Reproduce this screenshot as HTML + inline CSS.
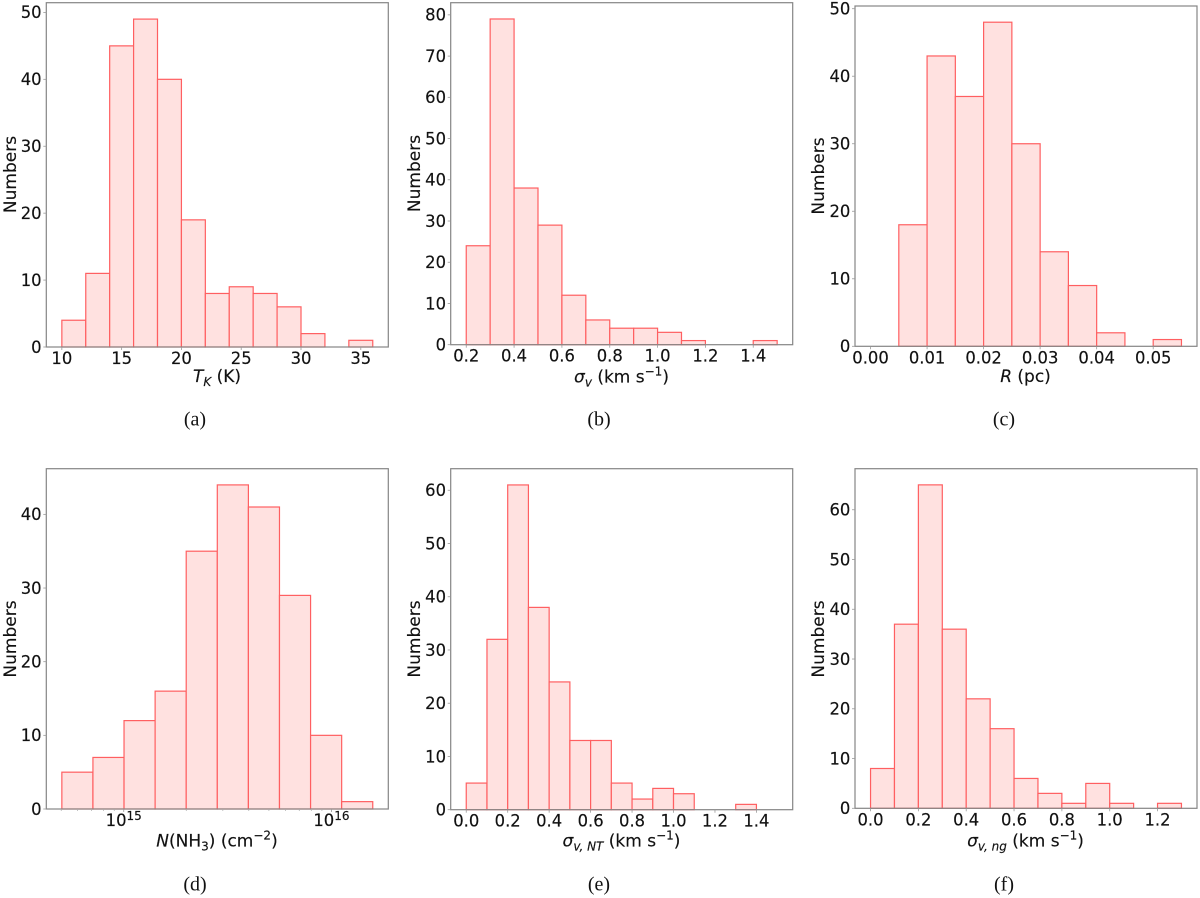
<!DOCTYPE html>
<html lang="en">
<head>
<meta charset="utf-8">
<title>Histograms of core properties</title>
<style>
  html, body { margin: 0; padding: 0; background: #fff; }
  svg { display: block; filter: blur(0.35px); }
  text { font-family: "DejaVu Sans", sans-serif; fill: #111; stroke: #111; stroke-width: 0.15px; }
  .tick-label { font-size: 16.4px; }
  .axis-title { font-size: 17px; }
  .sub { font-size: 12px; }
  .sup { font-size: 12px; }
  .it { font-style: italic; }
  .caption { font-family: "Liberation Serif", serif; font-size: 20px; fill: #111; stroke: none; }
</style>
</head>
<body>
<svg id="chart" xmlns="http://www.w3.org/2000/svg" width="1200" height="898" viewBox="0 0 1200 898">
  <rect x="0" y="0" width="1200" height="898" fill="#ffffff"/>

  <g id="panel-a"></g>
  <g id="panel-b"></g>
  <g id="panel-c"></g>
  <g id="panel-d"></g>
  <g id="panel-e"></g>
  <g id="panel-f"></g>

  <text class="axis-title" text-anchor="middle" transform="translate(16,174.5) rotate(-90)">Numbers</text>
  <text class="axis-title" text-anchor="middle" transform="translate(420,173.5) rotate(-90)">Numbers</text>
  <text class="axis-title" text-anchor="middle" transform="translate(824,176) rotate(-90)">Numbers</text>
  <text class="axis-title" text-anchor="middle" transform="translate(16,639) rotate(-90)">Numbers</text>
  <text class="axis-title" text-anchor="middle" transform="translate(420,639) rotate(-90)">Numbers</text>
  <text class="axis-title" text-anchor="middle" transform="translate(824,639) rotate(-90)">Numbers</text>

  <text class="axis-title" text-anchor="middle" x="217" y="382"><tspan class="it">T</tspan><tspan class="sub it" dy="4">K</tspan><tspan dy="-4"> (K)</tspan></text>
  <text class="axis-title" text-anchor="middle" x="621.5" y="382.5"><tspan class="it">σ</tspan><tspan class="sub it" dy="4">v</tspan><tspan dy="-4"> (km s</tspan><tspan class="sup" dy="-7">−1</tspan><tspan dy="7">)</tspan></text>
  <text class="axis-title" text-anchor="middle" x="1025.5" y="382"><tspan class="it">R</tspan> (pc)</text>
  <text class="axis-title" text-anchor="middle" x="217" y="846.5"><tspan class="it">N</tspan>(NH<tspan class="sub" dy="4">3</tspan><tspan dy="-4">) (cm</tspan><tspan class="sup" dy="-7">−2</tspan><tspan dy="7">)</tspan></text>
  <text class="axis-title" text-anchor="middle" x="621.5" y="846.5"><tspan class="it">σ</tspan><tspan class="sub it" dy="4">v, NT</tspan><tspan dy="-4"> (km s</tspan><tspan class="sup" dy="-7">−1</tspan><tspan dy="7">)</tspan></text>
  <text class="axis-title" text-anchor="middle" x="1025.5" y="846.5"><tspan class="it">σ</tspan><tspan class="sub it" dy="4">v, ng</tspan><tspan dy="-4"> (km s</tspan><tspan class="sup" dy="-7">−1</tspan><tspan dy="7">)</tspan></text>

  <text class="caption" text-anchor="middle" x="195" y="425.5">(a)</text>
  <text class="caption" text-anchor="middle" x="599" y="425.5">(b)</text>
  <text class="caption" text-anchor="middle" x="1004" y="425.5">(c)</text>
  <text class="caption" text-anchor="middle" x="195" y="890.5">(d)</text>
  <text class="caption" text-anchor="middle" x="599" y="890.5">(e)</text>
  <text class="caption" text-anchor="middle" x="1004" y="890.5">(f)</text>
</svg>

<script>
// ---- Data: counts per bin ----
var countsA = [4, 11, 45, 49, 40, 19, 8, 9, 8, 6, 2, 0, 1];
var countsB = [24, 79, 38, 29, 12, 6, 4, 4, 3, 1, 0, 0, 1];
var countsC = [0, 18, 43, 37, 48, 30, 14, 9, 2, 0, 1];
var countsD = [5, 7, 12, 16, 35, 44, 41, 29, 10, 1];
var countsE = [5, 32, 61, 38, 24, 13, 13, 5, 2, 4, 3, 0, 0, 1, 0];
var countsF = [8, 37, 65, 36, 22, 16, 6, 3, 1, 5, 1, 0, 1];

// ---- Data: first bin edge and bin width (panel d in log10 units) ----
var binStartA = 10,     binWidthA = 2;
var binStartB = 0.2,    binWidthB = 0.1;
var binStartC = 0,      binWidthC = 0.005;
var binStartD = 14.702, binWidthD = 0.1497;
var binStartE = 0,      binWidthE = 0.1;
var binStartF = 0,      binWidthF = 0.1;

// ---- Data: tick values and labels ----
var xTicksA = [10, 15, 20, 25, 30, 35];
var xLabelsA = ['10', '15', '20', '25', '30', '35'];
var yTicksA = [0, 10, 20, 30, 40, 50];

var xTicksB = [0.2, 0.4, 0.6, 0.8, 1.0, 1.2, 1.4];
var xLabelsB = ['0.2', '0.4', '0.6', '0.8', '1.0', '1.2', '1.4'];
var yTicksB = [0, 10, 20, 30, 40, 50, 60, 70, 80];

var xTicksC = [0, 0.01, 0.02, 0.03, 0.04, 0.05];
var xLabelsC = ['0.00', '0.01', '0.02', '0.03', '0.04', '0.05'];
var yTicksC = [0, 10, 20, 30, 40, 50];

var xTicksD = [15, 16];
var xLabelsD = ['15', '16'];
var xMinorD = [5e14, 6e14, 7e14, 8e14, 9e14, 2e15, 3e15, 4e15, 5e15, 6e15, 7e15, 8e15, 9e15];
var yTicksD = [0, 10, 20, 30, 40];

var xTicksE = [0, 0.2, 0.4, 0.6, 0.8, 1.0, 1.2, 1.4];
var xLabelsE = ['0.0', '0.2', '0.4', '0.6', '0.8', '1.0', '1.2', '1.4'];
var yTicksE = [0, 10, 20, 30, 40, 50, 60];

var xTicksF = [0, 0.2, 0.4, 0.6, 0.8, 1.0, 1.2];
var xLabelsF = ['0.0', '0.2', '0.4', '0.6', '0.8', '1.0', '1.2'];
var yTicksF = [0, 10, 20, 30, 40, 50, 60];

// ---- Rendering ----
var SVG_NS = 'http://www.w3.org/2000/svg';

function make(parent, tag, attrs) {
  var el = document.createElementNS(SVG_NS, tag);
  for (var k in attrs) { el.setAttribute(k, attrs[k]); }
  parent.appendChild(el);
  return el;
}

function drawPanel(id, frame, counts, binStart, binWidth, xTicks, xLabels, yTicks, isLog, xMinor) {
  var root = document.getElementById(id);
  var suffix = id.replace('panel-', '');
  var binEnd = binStart + binWidth * counts.length;
  var margin = (binEnd - binStart) * 0.05;
  var xMin = binStart - margin;
  var xMax = binEnd + margin;
  var yMax = Math.max.apply(null, counts) * 1.05;

  function xScale(v) { return frame.left + (v - xMin) / (xMax - xMin) * (frame.right - frame.left); }
  function yScale(v) { return frame.bottom - v / yMax * (frame.bottom - frame.top); }

  counts.forEach(function (count, i) {
    var x0 = xScale(binStart + binWidth * i);
    var x1 = xScale(binStart + binWidth * (i + 1));
    var y = yScale(count);
    var bar = make(root, 'rect', {
      x: x0, y: y, width: x1 - x0, height: frame.bottom - y,
      fill: '#ffe1e0', stroke: '#ff5f61', 'stroke-width': 1.2
    });
    
    
  });

  var spine = make(root, 'rect', {
    x: frame.left, y: frame.top, width: frame.right - frame.left, height: frame.bottom - frame.top,
    fill: 'none', stroke: '#858585', 'stroke-width': 1.2
  });
  
  

  xTicks.forEach(function (v, i) {
    var x = xScale(v);
    var tick = make(root, 'line', { x1: x, x2: x, y1: frame.bottom, y2: frame.bottom + 3, stroke: '#999', 'stroke-width': 0.8 });
    
    

    var label = make(root, 'text', { 'class': 'tick-label', 'text-anchor': 'middle', x: x, y: frame.bottom + 17 });
    
    
    if (isLog) {
      label.textContent = '10';
      var power = make(label, 'tspan', { 'class': 'sup', dy: -6 });
      power.textContent = xLabels[i];
    } else {
      label.textContent = xLabels[i];
    }
  });

  (xMinor || []).forEach(function (v, i) {
    var x = xScale(Math.log10(v));
    var minor = make(root, 'line', { x1: x, x2: x, y1: frame.bottom, y2: frame.bottom + 2, stroke: '#aaa', 'stroke-width': 0.7 });
    
    
  });

  yTicks.forEach(function (v, i) {
    var y = yScale(v);
    var tick = make(root, 'line', { x1: frame.left - 3, x2: frame.left, y1: y, y2: y, stroke: '#999', 'stroke-width': 0.8 });
    
    

    var label = make(root, 'text', { 'class': 'tick-label', 'text-anchor': 'end', x: frame.left - 4.7, y: y + 5.8 });
    
    
    label.textContent = String(v);
  });
}

var frameA = { left: 46.3,  right: 388.3,  top: 2.7,   bottom: 347 };
var frameB = { left: 450.7, right: 792.7,  top: 2.7,   bottom: 344.7 };
var frameC = { left: 855,   right: 1197,   top: 6,     bottom: 346.3 };
var frameD = { left: 46.3,  right: 388.3,  top: 468.7, bottom: 809 };
var frameE = { left: 450.7, right: 792.7,  top: 468.7, bottom: 809.7 };
var frameF = { left: 855,   right: 1197,   top: 468.7, bottom: 808.3 };

drawPanel('panel-a', frameA, countsA, binStartA, binWidthA, xTicksA, xLabelsA, yTicksA, false);
drawPanel('panel-b', frameB, countsB, binStartB, binWidthB, xTicksB, xLabelsB, yTicksB, false);
drawPanel('panel-c', frameC, countsC, binStartC, binWidthC, xTicksC, xLabelsC, yTicksC, false);
drawPanel('panel-d', frameD, countsD, binStartD, binWidthD, xTicksD, xLabelsD, yTicksD, true, xMinorD);
drawPanel('panel-e', frameE, countsE, binStartE, binWidthE, xTicksE, xLabelsE, yTicksE, false);
drawPanel('panel-f', frameF, countsF, binStartF, binWidthF, xTicksF, xLabelsF, yTicksF, false);
</script>
</body>
</html>
